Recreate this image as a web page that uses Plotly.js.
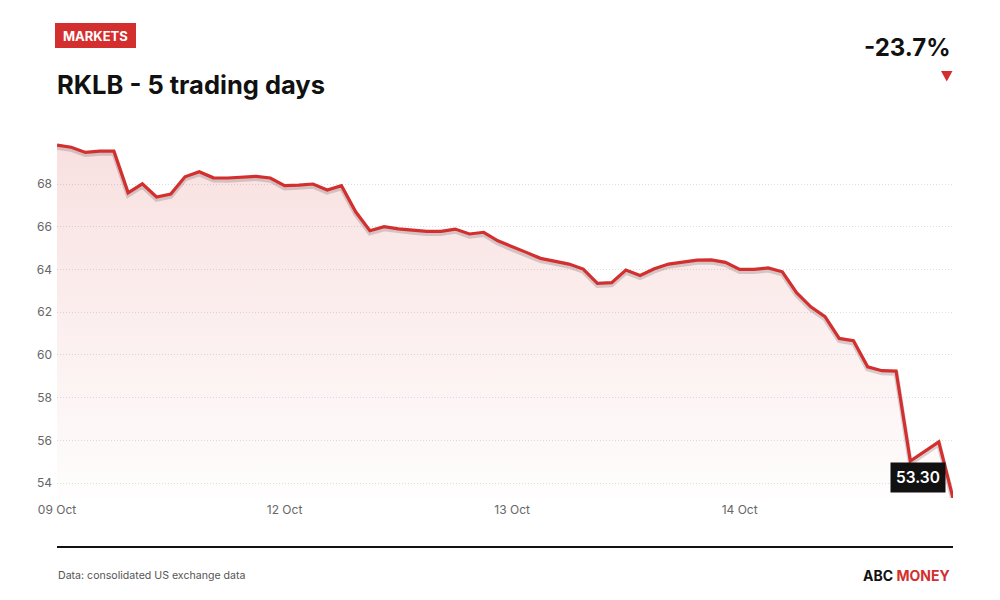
<!DOCTYPE html>
<html>
<head>
<meta charset="utf-8">
<script src="https://cdn.plot.ly/plotly-3.0.1.min.js"></script>
<style>
  html, body { margin: 0; padding: 0; background: #ffffff; }
  #chart { width: 1000px; height: 600px; }
</style>
</head>
<body>
<div id="chart"></div>
<script>
// ---- Data ----
const ticker = "RKLB";
const barIndex = [
  0,1,2,3,4,5,6,7,8,9,10,11,12,13,14,15,
  16,17,18,19,20,21,22,23,24,25,26,27,28,29,30,31,
  32,33,34,35,36,37,38,39,40,41,42,43,44,45,46,47,
  48,49,50,51,52,53,54,55,56,57,58,59,60,61,62,63
];
const prices = [
  69.82,69.72,69.48,69.54,69.54,67.59,68.01,67.39,67.53,68.34,68.57,68.29,68.28,68.33,68.36,68.28,
  67.92,67.95,68.00,67.72,67.92,66.70,65.81,66.00,65.90,65.84,65.78,65.78,65.89,65.66,65.74,65.34,
  65.05,64.80,64.52,64.39,64.25,64.02,63.35,63.38,63.97,63.72,64.03,64.25,64.33,64.44,64.45,64.33,
  64.00,64.00,64.07,63.89,62.91,62.25,61.79,60.77,60.66,59.44,59.26,59.24,55.03,55.47,55.93,53.30
];
const dayTickIndex = [0, 16, 32, 48];
const dayTickLabels = ["09 Oct", "12 Oct", "13 Oct", "14 Oct"];
const priceTicks = [54, 56, 58, 60, 62, 64, 66, 68];
const changePct = -23.7;
const lastPriceLabel = "53.30";

// ---- Styling / layout helpers ----
const RED = "#d32f2f";
const FONT = "Inter, 'Noto Sans', Roboto, sans-serif";
const W = 1000, H = 600;
const M = { l: 57, r: 47, t: 140, b: 102 };
const plotW = W - M.l - M.r, plotH = H - M.t - M.b;
const px = v => (v - M.l) / plotW;          // pixel x -> paper x
const py = v => (H - M.b - v) / plotH;      // pixel y -> paper y

const yRange = [53.3, 70.06];
const shadowShift = 0.1;

const fillTrace = {
  x: barIndex, y: prices, type: "scatter", mode: "lines",
  line: { width: 0, color: RED },
  fill: "tozeroy",
  fillgradient: {
    type: "vertical",
    start: yRange[0], stop: 69.8,
    colorscale: [[0, "rgba(211,47,47,0.01)"], [1, "rgba(211,47,47,0.15)"]]
  },
  hoverinfo: "skip", showlegend: false
};
const shadowTrace = {
  x: barIndex, y: prices, type: "scatter", mode: "lines", yaxis: "y2",
  line: { width: 5, color: "rgba(110,90,90,0.26)", shape: "linear" },
  hoverinfo: "skip", showlegend: false
};
const lineTrace = {
  x: barIndex, y: prices, type: "scatter", mode: "lines", yaxis: "y3",
  line: { width: 3.2, color: RED },
  showlegend: false
};

const lastIdx = barIndex[barIndex.length - 1];
const lastVal = prices[prices.length - 1];

const layout = {
  width: W, height: H,
  margin: M,
  paper_bgcolor: "#ffffff", plot_bgcolor: "#ffffff",
  font: { family: FONT, color: "#666666", size: 12 },
  showlegend: false,
  xaxis: {
    range: [barIndex[0], lastIdx],
    tickmode: "array", tickvals: dayTickIndex, ticktext: dayTickLabels,
    showgrid: false, zeroline: false, showline: false, ticks: "",
    tickfont: { family: FONT, size: 12, color: "#666666" },
    ticklabelstandoff: 3,
    fixedrange: true
  },
  yaxis: {
    range: yRange,
    tickmode: "array", tickvals: priceTicks,
    showgrid: true, gridcolor: "#dedede", griddash: "1px,2px", gridwidth: 1,
    zeroline: false, showline: false, ticks: "",
    tickfont: { family: FONT, size: 12, color: "#666666" },
    ticklabelstandoff: 4,
    fixedrange: true
  },
  yaxis2: {
    overlaying: "y", range: [yRange[0] + shadowShift, yRange[1] + shadowShift],
    showgrid: false, zeroline: false, showticklabels: false, showline: false, ticks: "",
    fixedrange: true
  },
  yaxis3: {
    overlaying: "y", range: yRange,
    showgrid: false, zeroline: false, showticklabels: false, showline: false, ticks: "",
    fixedrange: true
  },
  shapes: [
    // MARKETS badge
    { type: "rect", xref: "paper", yref: "paper", x0: px(55), x1: px(136), y0: py(48), y1: py(23),
      fillcolor: RED, line: { width: 0 }, layer: "above" },
    // down triangle
    { type: "path", xref: "paper", yref: "paper",
      path: `M ${px(941)} ${py(71)} L ${px(952.5)} ${py(71)} L ${px(946.75)} ${py(81.5)} Z`,
      fillcolor: RED, line: { width: 0 } },
    // footer rule
    { type: "line", xref: "paper", yref: "paper", x0: px(57), x1: px(953), y0: py(547), y1: py(547),
      line: { color: "#111111", width: 2 } }
  ],
  annotations: [
    { xref: "paper", yref: "paper", x: px(95.5), y: py(35.5), xanchor: "center", yanchor: "middle",
      text: "MARKETS", showarrow: false,
      font: { family: FONT, size: 13, color: "#ffffff", weight: 700 } },
    { xref: "paper", yref: "paper", x: px(55), y: py(85), xanchor: "left", yanchor: "middle",
      text: ticker + " - 5 trading days", showarrow: false,
      font: { family: FONT, size: 25.5, color: "#111111", weight: 700 } },
    { xref: "paper", yref: "paper", x: px(953), y: py(48), xanchor: "right", yanchor: "middle",
      text: changePct.toFixed(1) + "%", showarrow: false,
      font: { family: FONT, size: 24, color: "#111111", weight: 700 } },
    { xref: "x", yref: "y", x: lastIdx, y: lastVal, xanchor: "right", yanchor: "bottom",
      xshift: -7, yshift: 5,
      text: lastPriceLabel, showarrow: false,
      bgcolor: "#111111", borderpad: 5,
      font: { family: FONT, size: 15.5, color: "#ffffff", weight: 600 } },
    { xref: "paper", yref: "paper", x: px(56), y: py(575), xanchor: "left", yanchor: "middle",
      text: "Data: consolidated US exchange data", showarrow: false,
      font: { family: FONT, size: 10.6, color: "#555555" } },
    { xref: "paper", yref: "paper", x: px(952), y: py(575), xanchor: "right", yanchor: "middle",
      text: "ABC <span style='color:" + RED + "'>MONEY</span>", showarrow: false,
      font: { family: FONT, size: 14, color: "#111111", weight: 700 } }
  ]
};

Plotly.newPlot("chart", [fillTrace, shadowTrace, lineTrace], layout, { displayModeBar: false, staticPlot: true });
</script>
</body>
</html>
